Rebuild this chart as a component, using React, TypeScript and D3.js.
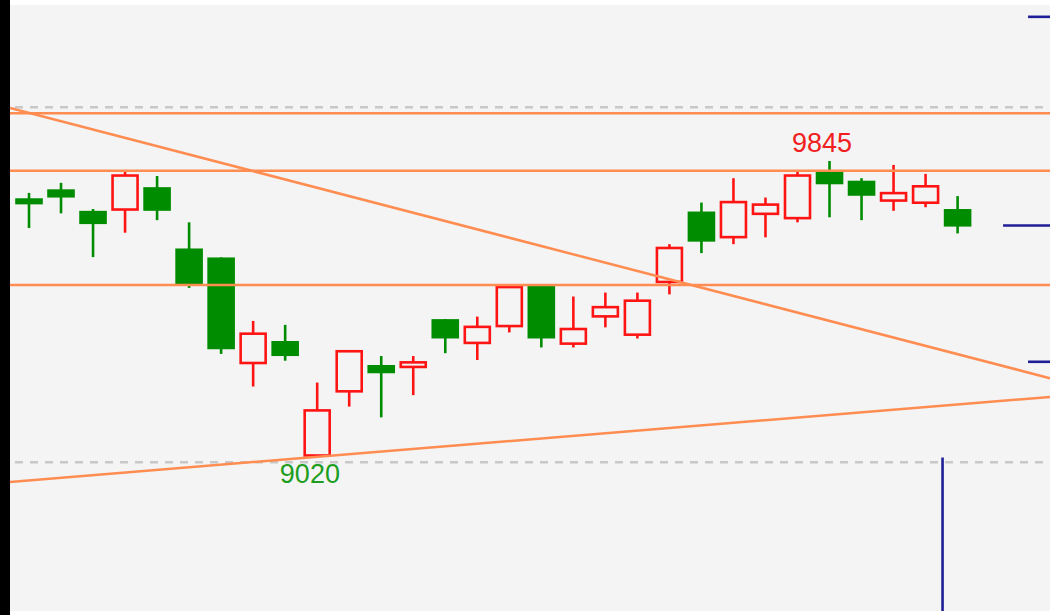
import React from "react";
import * as d3 from "d3";

// ---- data ----
const opens = [9741, 9766, 9706, 9706, 9772, 9601, 9576, 9278, 9343, 9020, 9199, 9276, 9267, 9404, 9334, 9381, 9499, 9332, 9408, 9357, 9504, 9704, 9629, 9694, 9682, 9816, 9790, 9731, 9725, 9711];
const closes = [9724, 9743, 9669, 9808, 9706, 9502, 9320, 9367, 9301, 9153, 9318, 9253, 9287, 9350, 9386, 9497, 9350, 9380, 9441, 9459, 9606, 9620, 9734, 9727, 9808, 9780, 9748, 9759, 9778, 9662];
const highs = [9756, 9784, 9711, 9815, 9803, 9674, 9576, 9399, 9388, 9227, 9318, 9301, 9301, 9404, 9411, 9497, 9499, 9467, 9478, 9478, 9613, 9729, 9797, 9743, 9817, 9845, 9797, 9834, 9809, 9747];
const lows = [9658, 9699, 9577, 9645, 9680, 9491, 9307, 9216, 9288, 9020, 9160, 9130, 9192, 9309, 9290, 9367, 9325, 9325, 9381, 9350, 9473, 9588, 9613, 9632, 9674, 9688, 9680, 9706, 9716, 9643];

const gridLevels = [9995, 9005];
const supportLevels = [9978, 9818, 9499];
// trend lines as [index1, price1, index2, price2]
const trendA = [0, 9979, 20, 9515];
const trendB = [9, 9020, 29, 9166];
// blue markers
const markerLevels = [10247, 9665, 9285];
const markerStarts = [31.2, 30.42, 31.2];
const markerVIndex = 28.53;
const markerVTop = 9018;

const W = 1050;
const H = 615;
const plot = { left: 10, top: 5, right: 1050, bottom: 611 };

const RED = "#ff1414";
const GREEN = "#008c00";
const ORANGE = "#ff8c50";
const BLUE = "#1e1e96";
const BG = "#f4f4f4";

export default function App() {
  const x = d3.scaleLinear().domain([0, opens.length - 1]).range([29, 957.6]);
  const y = d3.scaleLinear().domain([8590, 10280]).range([plot.bottom, plot.top]);
  const bodyW = 27.6;
  const sw = 2.6;

  const trendPath = (t: number[]) => {
    const [i1, p1, i2, p2] = t;
    const slope = (p2 - p1) / (i2 - i1);
    const ia = x.invert(plot.left);
    const ib = x.invert(plot.right);
    const line = d3.line<[number, number]>().x((d) => x(d[0])).y((d) => y(d[1]));
    return line([
      [ia, p1 + (ia - i1) * slope],
      [ib, p1 + (ib - i1) * slope],
    ]) as string;
  };

  const hiIdx = d3.maxIndex(highs);
  const loIdx = d3.minIndex(lows);

  return (
    <svg
      width={W}
      height={H}
      style={{ position: "absolute", left: 0, top: 0, background: "#ffffff" }}
    >
      <defs>
        <clipPath id="plotclip">
          <rect x={plot.left} y={plot.top} width={plot.right - plot.left} height={plot.bottom - plot.top} />
        </clipPath>
      </defs>
      <rect x={0} y={0} width={W} height={H} fill="#ffffff" />
      <rect x={plot.left} y={plot.top} width={plot.right - plot.left} height={plot.bottom - plot.top} fill={BG} />
      <rect x={0} y={0} width={plot.left} height={H} fill="#000000" />

      <g clipPath="url(#plotclip)">
        {gridLevels.map((g, k) => (
          <line key={"g" + k} x1={plot.left + 5} x2={plot.right} y1={y(g)} y2={y(g)} stroke="#c8c8c8" strokeWidth={2.5} strokeDasharray="8 7" />
        ))}

        {opens.map((o, i) => {
          const c = closes[i];
          const xc = x(i);
          const up = c >= o;
          const col = up ? RED : GREEN;
          const yTop = y(Math.max(o, c));
          const yBot = y(Math.min(o, c));
          return (
            <g key={"c" + i}>
              <line x1={xc} x2={xc} y1={y(highs[i])} y2={y(lows[i])} stroke={col} strokeWidth={sw} />
              {up ? (
                <rect
                  x={xc - bodyW / 2 + sw / 2}
                  y={yTop + sw / 2}
                  width={bodyW - sw}
                  height={Math.max(1, yBot - yTop - sw)}
                  fill={BG}
                  stroke={col}
                  strokeWidth={sw}
                />
              ) : (
                <rect x={xc - bodyW / 2} y={yTop} width={bodyW} height={Math.max(2, yBot - yTop)} fill={col} />
              )}
            </g>
          );
        })}

        {supportLevels.map((s, k) => (
          <line key={"s" + k} x1={plot.left} x2={plot.right} y1={y(s)} y2={y(s)} stroke={ORANGE} strokeWidth={2.5} />
        ))}
        <path d={trendPath(trendA)} stroke={ORANGE} strokeWidth={2.5} fill="none" />
        <path d={trendPath(trendB)} stroke={ORANGE} strokeWidth={2.5} fill="none" />

        {markerLevels.map((m, k) => (
          <line key={"m" + k} x1={x(markerStarts[k])} x2={plot.right} y1={y(m)} y2={y(m)} stroke={BLUE} strokeWidth={2.6} />
        ))}
        <line x1={x(markerVIndex)} x2={x(markerVIndex)} y1={y(markerVTop)} y2={plot.bottom} stroke={BLUE} strokeWidth={2.6} />

        <text
          x={x(hiIdx) - 7.5}
          y={y(highs[hiIdx]) - 8.5}
          textAnchor="middle"
          fontFamily="'Liberation Sans', Arial, sans-serif"
          fontSize={27}
          fill="#f02020"
        >
          {highs[hiIdx]}
        </text>
        <text
          x={x(loIdx) - 7.3}
          y={y(lows[loIdx]) + 26}
          textAnchor="middle"
          fontFamily="'Liberation Sans', Arial, sans-serif"
          fontSize={27}
          fill="#1e9e1e"
        >
          {lows[loIdx]}
        </text>
      </g>
    </svg>
  );
}
